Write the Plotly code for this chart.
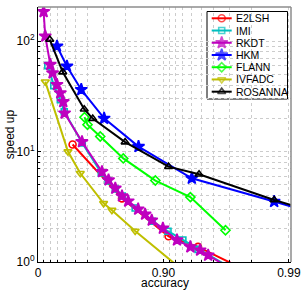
import plotly.graph_objects as go

# ---- data ----
series_names = ["E2LSH", "IMI", "RKDT", "HKM", "FLANN", "IVFADC", "ROSANNA"]

e2lsh_acc = [0.470, 0.786, 0.909, 0.947, 0.978]
e2lsh_speed = [11.6, 3.77, 1.71, 1.37, 0.84]

imi_acc = [0.1645, 0.2515, 0.336, 0.3825, 0.556, 0.687, 0.724, 0.758, 0.787,
           0.832, 0.877, 0.908, 0.930, 0.947, 0.9695]
imi_speed = [60.1, 39.6, 29.5, 23.0, 12.0, 6.40, 5.42, 4.58, 3.96,
             3.08, 2.34, 1.90, 1.58, 1.30, 0.914]

rkdt_acc = [0.098, 0.125, 0.202, 0.235, 0.294, 0.336, 0.371, 0.386, 0.554,
            0.691, 0.726, 0.758, 0.786, 0.809, 0.841, 0.860, 0.876, 0.899,
            0.922, 0.939, 0.949, 0.956, 0.9706]
rkdt_speed = [185, 111, 61.4, 51.6, 40.4, 34.0, 28.3, 22.3, 12.3,
              6.58, 5.53, 4.65, 3.96, 3.56, 3.01, 2.71, 2.39, 2.02,
              1.58, 1.37, 1.28, 1.15, 0.877]

hkm_acc = [0.294, 0.412, 0.548, 0.703, 0.842, 0.9406, 0.9869, 0.9918]
hkm_speed = [90.1, 59.3, 36.4, 20.0, 11.1, 5.73, 3.53, 3.01]

flann_acc = [0.574, 0.597, 0.681, 0.791, 0.884, 0.939, 0.968]
flann_speed = [20.5, 17.5, 13.7, 8.68, 5.47, 3.87, 1.94]

ivfadc_acc = [0.125, 0.423, 0.540, 0.700, 0.7425, 0.832, 0.933]
ivfadc_speed = [43.0, 10.0, 6.36, 3.40, 2.95, 1.91, 0.806]

rosanna_acc = [0.1945, 0.365, 0.572, 0.634, 0.798, 0.909, 0.948, 0.9869, 0.9918]
rosanna_speed = [103.6, 52.5, 24.2, 19.9, 12.2, 7.31, 6.23, 3.64, 3.11]

x_tick_vals = [1.0, 0.1, 0.01]          # 1 - accuracy
x_tick_text = ["0", "0.90", "0.99"]
y_tick_vals = [1, 10, 100]
y_tick_text = ["10<sup>0</sup>", "10<sup>1</sup>", "10<sup>2</sup>"]

# ---- styles ----
colors = ["#FF0000", "#00BFBF", "#BF00BF", "#0000FF", "#00FF00", "#BFBF00", "#000000"]
symbols = ["circle-open", "square-open", "star", "star", "diamond-open",
           "triangle-down-open", "triangle-up-open"]
msizes = [7, 6, 9, 9, 7, 7, 7]

data = [
    (e2lsh_acc, e2lsh_speed), (imi_acc, imi_speed), (rkdt_acc, rkdt_speed),
    (hkm_acc, hkm_speed), (flann_acc, flann_speed), (ivfadc_acc, ivfadc_speed),
    (rosanna_acc, rosanna_speed),
]

FONT = "Liberation Sans, Arial, Helvetica, sans-serif"
fig = go.Figure()

for name, (acc, sp), c, s, ms in zip(series_names, data, colors, symbols, msizes):
    err = [1.0 - a for a in acc]
    fig.add_trace(go.Scatter(
        x=err, y=sp, mode="lines+markers", name=name, showlegend=False,
        line=dict(color=c, width=2),
        marker=dict(symbol=s, size=ms, color=c, line=dict(color=c, width=1.6)),
        cliponaxis=True,
    ))

# ---- plot area geometry in pixels (for the compact legend) ----
L, R, T, B = 38, 291, 7, 262
def px(xp):
    return (xp - L) / (R - L)
def py(yp):
    return (B - yp) / (B - T)

# ---- custom legend (compact, MATLAB-like) on an overlay axis ----
row0, dy = 18.3, 12.23
for i, (name, c, s, ms) in enumerate(zip(series_names, colors, symbols, msizes)):
    yy = py(row0 + dy * i)
    fig.add_trace(go.Scatter(
        x=[px(211.7), px(221.7), px(231.7)], y=[yy, yy, yy], xaxis="x2", yaxis="y2",
        mode="lines+markers", showlegend=False, hoverinfo="skip",
        line=dict(color=c, width=2),
        marker=dict(symbol=s, size=[0, ms, 0], color=c, line=dict(color=c, width=1.6)),
    ))
    fig.add_annotation(x=px(233.5), y=yy, xref="paper", yref="paper", text=name,
                       showarrow=False, xanchor="left", yanchor="middle",
                       font=dict(family=FONT, size=10.5, color="black"))

fig.add_shape(type="rect", xref="paper", yref="paper",
              x0=px(207), x1=px(287.5), y0=py(99), y1=py(11.5),
              line=dict(color="black", width=1), fillcolor="white", layer="between")

# frame top/right (gray)
fig.add_shape(type="line", xref="paper", yref="paper", x0=0, x1=1, y0=1, y1=1,
              line=dict(color="#8c8c8c", width=1.5), layer="above")
fig.add_shape(type="line", xref="paper", yref="paper", x0=1, x1=1, y0=0, y1=1,
              line=dict(color="#8c8c8c", width=1.5), layer="above")

grid = "#cccccc"
x_minor = [0.9, 0.8, 0.7, 0.6, 0.5, 0.4, 0.3, 0.2,
           0.09, 0.08, 0.07, 0.06, 0.05, 0.04, 0.03, 0.02]
y_minor = [2, 3, 4, 5, 6, 7, 8, 9, 20, 30, 40, 50, 60, 70, 80, 90, 200]

fig.update_layout(
    width=305, height=291,
    margin=dict(l=L, r=305 - R, t=T, b=291 - B),
    paper_bgcolor="white", plot_bgcolor="white",
    font=dict(family=FONT, size=12, color="black"),
    showlegend=False,
    xaxis=dict(
        type="log", range=[0, -2.017], automargin=False,
        tickmode="array", tickvals=x_tick_vals, ticktext=x_tick_text,
        showline=True, linecolor="black", linewidth=1,
        ticks="inside", ticklen=3, tickcolor="black",
        showgrid=True, gridcolor=grid, griddash="dot", gridwidth=1,
        minor=dict(tickmode="array", tickvals=x_minor, showgrid=True,
                   gridcolor=grid, griddash="dot", gridwidth=1,
                   ticks="inside", ticklen=2, tickcolor="black"),
        zeroline=False, tickfont=dict(size=12),
    ),
    yaxis=dict(
        type="log", range=[0, 2.31], automargin=False,
        tickmode="array", tickvals=y_tick_vals, ticktext=y_tick_text,
        showline=True, linecolor="black", linewidth=1,
        ticks="inside", ticklen=3, tickcolor="black",
        showgrid=True, gridcolor=grid, griddash="dot", gridwidth=1,
        minor=dict(tickmode="array", tickvals=y_minor, showgrid=True,
                   gridcolor=grid, griddash="dot", gridwidth=1,
                   ticks="inside", ticklen=2, tickcolor="black"),
        zeroline=False, tickfont=dict(size=12),
    ),
    xaxis2=dict(overlaying="x", anchor="y2", range=[0, 1], visible=False,
                fixedrange=True, automargin=False),
    yaxis2=dict(overlaying="y", anchor="x2", range=[0, 1], visible=False,
                fixedrange=True, automargin=False),
)

fig.add_annotation(text="accuracy", xref="paper", yref="paper", x=0.503, y=-0.083,
                   showarrow=False, xanchor="center", yanchor="middle",
                   font=dict(family=FONT, size=12))
fig.add_annotation(text="speed up", xref="paper", yref="paper", x=-0.112, y=0.5,
                   showarrow=False, textangle=-90, xanchor="center", yanchor="middle",
                   font=dict(family=FONT, size=12))

fig.write_html(
    "out.html",
    config={"displayModeBar": False},
    post_script="document.body.style.margin='0';document.body.style.overflow='hidden';",
)
